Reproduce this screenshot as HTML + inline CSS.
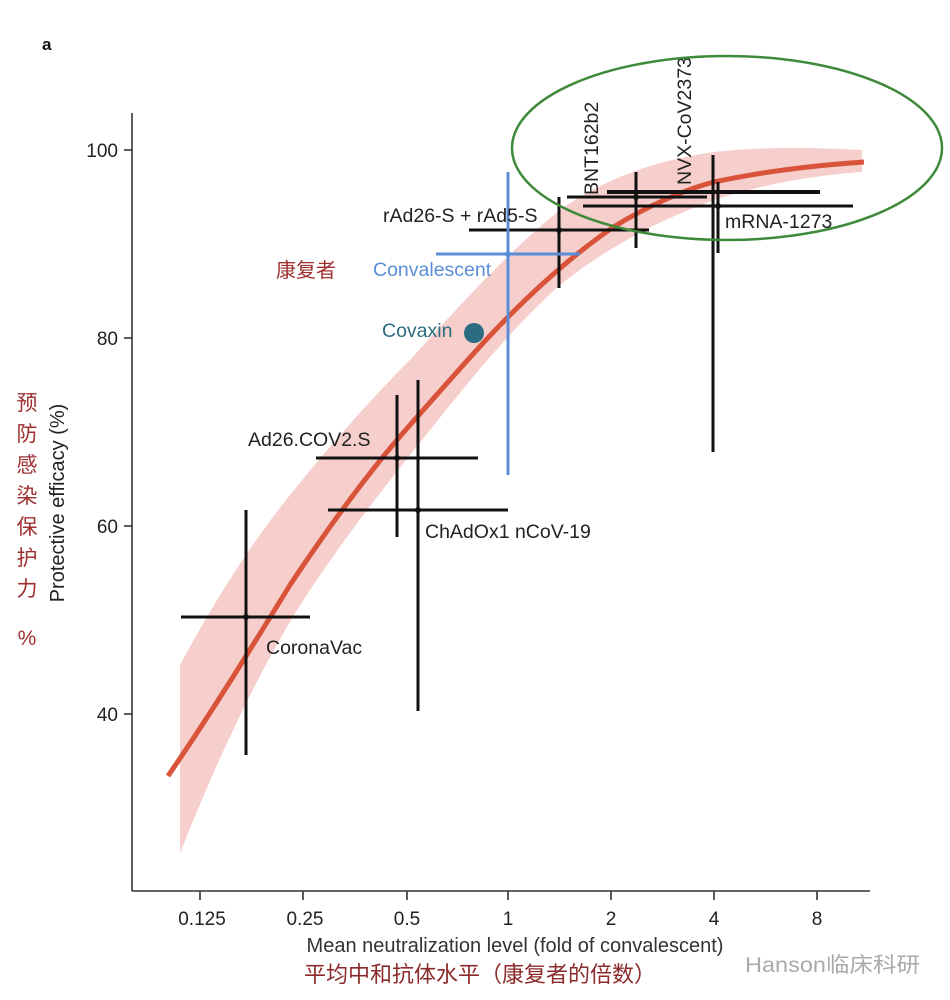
<!DOCTYPE html>
<html><head><meta charset="utf-8"><style>
html,body{margin:0;padding:0;background:#fff;}
svg{display:block;}
text{font-family:"Liberation Sans","Noto Sans CJK SC",sans-serif;}
</style></head><body>
<svg width="950" height="1000" viewBox="0 0 950 1000" xmlns="http://www.w3.org/2000/svg">
<rect width="950" height="1000" fill="#fff"/>
<text x="42" y="50" font-size="17" font-weight="bold" fill="#111">a</text>
<path d="M180,665 C215,600 250,545 290,495 C330,445 370,400 410,360 C460,305 510,250 560,210 C610,175 660,160 714,152 C770,146 820,148 862,150
L862,172 C820,175 770,182 714,200 C660,220 610,245 560,285 C510,330 470,380 430,430 C390,480 350,530 310,590 C270,650 225,740 180,853 Z" fill="#f4c6c3" opacity="0.85"/>
<g stroke="#333" stroke-width="1.6" fill="none">
<line x1="132" y1="113" x2="132" y2="891"/>
<line x1="132" y1="891" x2="870" y2="891"/>
<line x1="124" y1="150" x2="132" y2="150"/>
<line x1="124" y1="338" x2="132" y2="338"/>
<line x1="124" y1="526" x2="132" y2="526"/>
<line x1="124" y1="714" x2="132" y2="714"/>
<line x1="200" y1="891" x2="200" y2="900"/>
<line x1="303" y1="891" x2="303" y2="900"/>
<line x1="407" y1="891" x2="407" y2="900"/>
<line x1="508" y1="891" x2="508" y2="900"/>
<line x1="611" y1="891" x2="611" y2="900"/>
<line x1="714" y1="891" x2="714" y2="900"/>
<line x1="817" y1="891" x2="817" y2="900"/>
</g>
<g font-size="19" fill="#222" text-anchor="end">
<text x="118" y="157">100</text><text x="118" y="345">80</text><text x="118" y="533">60</text><text x="118" y="721">40</text>
</g>
<g font-size="19" fill="#222" text-anchor="middle">
<text x="202" y="925">0.125</text><text x="305" y="925">0.25</text><text x="407" y="925">0.5</text><text x="508" y="925">1</text><text x="611" y="925">2</text><text x="714" y="925">4</text><text x="817" y="925">8</text>
</g>
<text x="515" y="952" font-size="20" fill="#333" text-anchor="middle">Mean neutralization level (fold of convalescent)</text>
<text x="480" y="982" font-size="22" fill="#8b2a2a" text-anchor="middle">平均中和抗体水平（康复者的倍数）</text>
<text x="745" y="972" font-size="21" fill="#aaa" textLength="175" lengthAdjust="spacingAndGlyphs">Hanson临床科研</text>
<text transform="translate(64,503) rotate(-90)" font-size="20" fill="#222" text-anchor="middle">Protective efficacy (%)</text>
<g font-size="21" fill="#a03030" text-anchor="middle">
<text x="27" y="410">预</text><text x="27" y="441">防</text><text x="27" y="472">感</text><text x="27" y="503">染</text><text x="27" y="534">保</text><text x="27" y="565">护</text><text x="27" y="596">力</text><text x="27" y="645">%</text>
</g>
<text x="276" y="277" font-size="20" fill="#a03030">康复者</text>
<path d="M168,776 C210,715 250,650 290,585 C330,525 370,470 410,425 C450,380 480,345 510,315 C545,280 580,250 612,228 C650,204 690,188 714,182 C770,170 820,165 864,162" fill="none" stroke="#d9533a" stroke-width="5"/>
<g stroke="#111" stroke-width="3" fill="none">
<line x1="181" y1="617" x2="310" y2="617"/><line x1="246" y1="510" x2="246" y2="755"/>
<line x1="316" y1="458" x2="478" y2="458"/><line x1="397" y1="395" x2="397" y2="537"/>
<line x1="328" y1="510" x2="508" y2="510"/><line x1="418" y1="380" x2="418" y2="711"/>
<line x1="469" y1="230" x2="649" y2="230"/><line x1="559" y1="197" x2="559" y2="288"/>
<line x1="567" y1="197" x2="707" y2="197"/><line x1="636" y1="172" x2="636" y2="248"/>
<line x1="607" y1="192" x2="820" y2="192" stroke-width="4"/><line x1="713" y1="155" x2="713" y2="452"/>
<line x1="583" y1="206" x2="853" y2="206"/><line x1="718" y1="182" x2="718" y2="253"/>
</g>
<g fill="#111">
<circle cx="246" cy="617" r="3"/><circle cx="397" cy="458" r="3"/><circle cx="418" cy="510" r="3"/><circle cx="559" cy="230" r="3"/><circle cx="636" cy="197" r="3"/><circle cx="718" cy="206" r="3"/>
</g>
<g stroke="#5b8ed6" stroke-width="3"><line x1="436" y1="254" x2="580" y2="254"/><line x1="508" y1="172" x2="508" y2="475"/></g>
<circle cx="508" cy="254" r="3" fill="#5b8ed6"/>
<circle cx="474" cy="333" r="10" fill="#2b6c80"/>
<g font-size="19.5" fill="#222">
<text x="383" y="222">rAd26-S + rAd5-S</text>
<text x="248" y="446">Ad26.COV2.S</text>
<text x="425" y="538">ChAdOx1 nCoV-19</text>
<text x="266" y="654">CoronaVac</text>
<text x="725" y="228">mRNA-1273</text>
<text transform="translate(598,195) rotate(-90)">BNT162b2</text>
<text transform="translate(691,185) rotate(-90)">NVX-CoV2373</text>
</g>
<text x="373" y="276" font-size="19.5" fill="#5b8ed6">Convalescent</text>
<text x="382" y="337" font-size="19.5" fill="#2b6c80">Covaxin</text>
<ellipse cx="727" cy="148" rx="215" ry="92" fill="none" stroke="#3f8a3a" stroke-width="2.5"/>
</svg>
</body></html>
